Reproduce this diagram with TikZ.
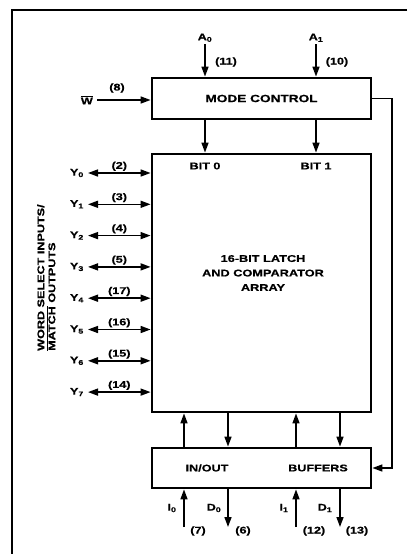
\documentclass[tikz,border=0pt]{standalone}
\usepackage{fontspec}
\setmainfont{Liberation Sans}[FakeStretch=1.3, BoldFeatures={FakeBold=0.6}]
\usepackage{tikz}
\usetikzlibrary{arrows.meta,positioning,calc}

\begin{document}
\begin{tikzpicture}[x=1pt,y=-1pt,
    every node/.style={font=\bfseries\fontsize{9.7}{11}\selectfont, inner sep=1pt},
    block/.style={draw, line width=2.8pt, minimum width=219pt, inner sep=0pt},
    sig/.style={line width=1.5pt, -{Triangle[length=10pt,width=7pt]}},
    bus/.style={line width=1.5pt, {Triangle[length=10pt,width=7pt]}-{Triangle[length=10pt,width=7pt]}}]
    \useasboundingbox (0,0) rectangle (407,554);
    % outer frame
    \draw[line width=1.5pt] (407,10) -- (12,10) -- (12,554);

    % blocks
    \node[block, minimum height=41pt] (mode) at (261.5,98.5) {\fontsize{10.5}{11}\selectfont MODE CONTROL};
    \node[block, minimum height=258pt] (array) at (261.5,283) {};
    \node[block, minimum height=40pt] (buf) at (261.5,468) {};
    \node[align=center, font=\bfseries\fontsize{9.8}{14.5}\selectfont] (core) at (263,273)
        {16-BIT LATCH\\AND COMPARATOR\\ARRAY};
    \node (bit0) at (205,166) {BIT 0};
    \node (bit1) at (316,166) {BIT 1};
    \node (inout) at (207,468) {IN/OUT};
    \node (buffers) at (318,468) {BUFFERS};

    % address and write inputs
    \coordinate (a0) at (205,44);
    \coordinate (a1) at (316,44);
    \node[above=1pt of a0] (a0lbl) {A\textsubscript{0}};
    \node[above=1pt of a1] (a1lbl) {A\textsubscript{1}};
    \node (p11) at (226,62) {(11)};
    \node (p10) at (337,62) {(10)};
    \draw[sig] (a0) -- (a0 |- mode.north);
    \draw[sig] (a1) -- (a1 |- mode.north);
    \draw[sig] (a0 |- mode.south) -- (a0 |- array.north);
    \draw[sig] (a1 |- mode.south) -- (a1 |- array.north);

    \coordinate (w) at (97,100);
    \node[left=3pt of w] (wlbl) {$\overline{\mbox{W}}$};
    \node (p8) at (117,88) {(8)};
    \draw[sig] (w) -- (w -| mode.west);

    % mode control to buffers
    \coordinate (fb) at (392,0);
    \draw[sig] (mode.east) -| (fb |- buf.east) -- (buf.east);

    % word select lines
    \foreach \i/\p in {0/2,1/3,2/4,3/5,4/17,5/16,6/15,7/14} {
      \coordinate (y\i) at (88,{173+31.3*\i});
      \node[left=3pt of y\i] (ylbl\i) {Y\textsubscript{\i}};
      \node[above=1pt] (p\p) at ($(y\i)!0.5!(y\i -| array.west)$) {(\p)};
      \draw[bus] (y\i) -- (y\i -| array.west);
    }
    \node[rotate=90, anchor=north west, align=left] (wsel) at (36,352)
        {WORD SELECT INPUTS/\\$\overline{\mbox{MATCH}}$ OUTPUTS};

    % array <-> buffers
    \coordinate (i0) at (184,527);
    \coordinate (d0) at (228,527);
    \coordinate (i1) at (296,527);
    \coordinate (d1) at (340,527);
    \draw[sig] (i0 |- buf.north) -- (i0 |- array.south);
    \draw[sig] (d0 |- array.south) -- (d0 |- buf.north);
    \draw[sig] (i1 |- buf.north) -- (i1 |- array.south);
    \draw[sig] (d1 |- array.south) -- (d1 |- buf.north);

    % data pins
    \draw[sig] (i0) -- (i0 |- buf.south);
    \draw[sig] (d0 |- buf.south) -- (d0);
    \draw[sig] (i1) -- (i1 |- buf.south);
    \draw[sig] (d1 |- buf.south) -- (d1);
    \node (i0lbl) at (172,508) {I\textsubscript{0}};
    \node (d0lbl) at (214,508) {D\textsubscript{0}};
    \node (i1lbl) at (284,508) {I\textsubscript{1}};
    \node (d1lbl) at (325,508) {D\textsubscript{1}};
    \node (p7) at (198,531) {(7)};
    \node (p6) at (243,531) {(6)};
    \node (p12) at (314,531) {(12)};
    \node (p13) at (357,531) {(13)};
\end{tikzpicture}
\end{document}
